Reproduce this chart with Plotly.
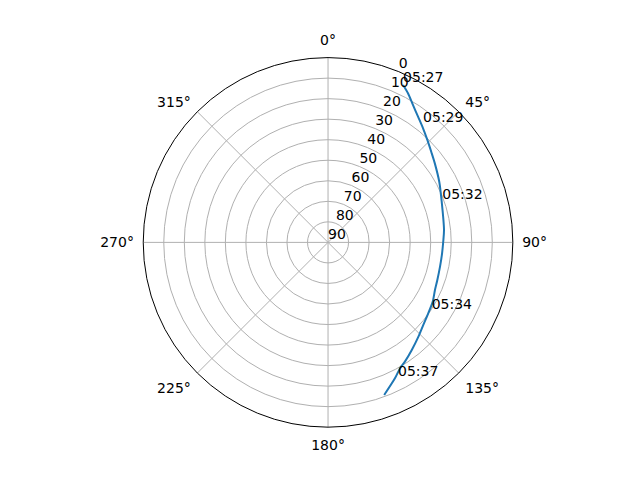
import plotly.graph_objects as go

# Satellite pass track (azimuth deg, elevation deg)
azimuth = [25.5, 28.2, 31.7, 35.6, 39.8, 44.1, 48.7, 53.5, 61.4, 70.3,
           83.9, 89.7, 95.5, 102.2, 109.0, 114.0, 119.5, 125.3, 130.9,
           136.2, 142.1, 147.2, 150.2, 153.8, 159.8]
elevation = [5.1, 7.6, 11.3, 14.7, 17.7, 20.5, 23.1, 25.3, 28.3, 31.2,
             33.2, 33.9, 34.2, 34.2, 33.7, 33.0, 31.4, 30.2, 28.6,
             26.4, 23.6, 20.9, 19.4, 16.2, 10.8]

# Time labels along the track
label_times = ["05:27", "05:29", "05:32", "05:34", "05:37"]
label_az = [25.5, 39.1, 70.6, 123.9, 152.9]
label_el = [5.1, 16.6, 31.0, 29.2, 15.2]

radial_ticks = [0, 10, 20, 30, 40, 50, 60, 70, 80, 90]
radial_label_angle = 22.5
angle_ticks = [0, 45, 90, 135, 180, 225, 270, 315]

FONT = "DejaVu Sans"
FS = 14

fig = go.Figure()
fig.add_trace(go.Scatterpolar(
    r=elevation, theta=azimuth, mode="lines",
    line=dict(color="#1f77b4", width=2, shape="spline", smoothing=0.8),
    hoverinfo="skip", showlegend=False))
# radial tick labels (matplotlib style, along 22.5 deg)
fig.add_trace(go.Scatterpolar(
    r=radial_ticks, theta=[radial_label_angle] * len(radial_ticks),
    mode="text", text=[str(t) for t in radial_ticks],
    textposition="top right", textfont=dict(family=FONT, size=FS, color="black"),
    hoverinfo="skip", showlegend=False, cliponaxis=False))
fig.add_trace(go.Scatterpolar(
    r=label_el, theta=label_az, mode="text", text=label_times,
    textposition="top right", textfont=dict(family=FONT, size=FS, color="black"),
    hoverinfo="skip", showlegend=False, cliponaxis=False))

fig.update_layout(
    width=640, height=480,
    margin=dict(l=0, r=0, t=0, b=0),
    paper_bgcolor="white",
    font=dict(family=FONT, size=FS, color="black"),
    polar=dict(
        domain=dict(x=[0.2113, 0.7888], y=[0.1267, 0.8967]),
        bgcolor="white",
        angularaxis=dict(
            rotation=90, direction="clockwise",
            tickvals=angle_ticks, ticktext=[f"{a}°" for a in angle_ticks],
            ticks="outside", ticklen=6, tickcolor="rgba(0,0,0,0)",
            showline=True, linecolor="black", linewidth=1,
            gridcolor="#b0b0b0", gridwidth=1,
            tickfont=dict(family=FONT, size=FS, color="black")),
        radialaxis=dict(
            range=[90, 0], tickvals=radial_ticks,
            showticklabels=False, showline=False, ticks="",
            gridcolor="#b0b0b0", gridwidth=1),
    ),
)

fig.write_html("out.html")
